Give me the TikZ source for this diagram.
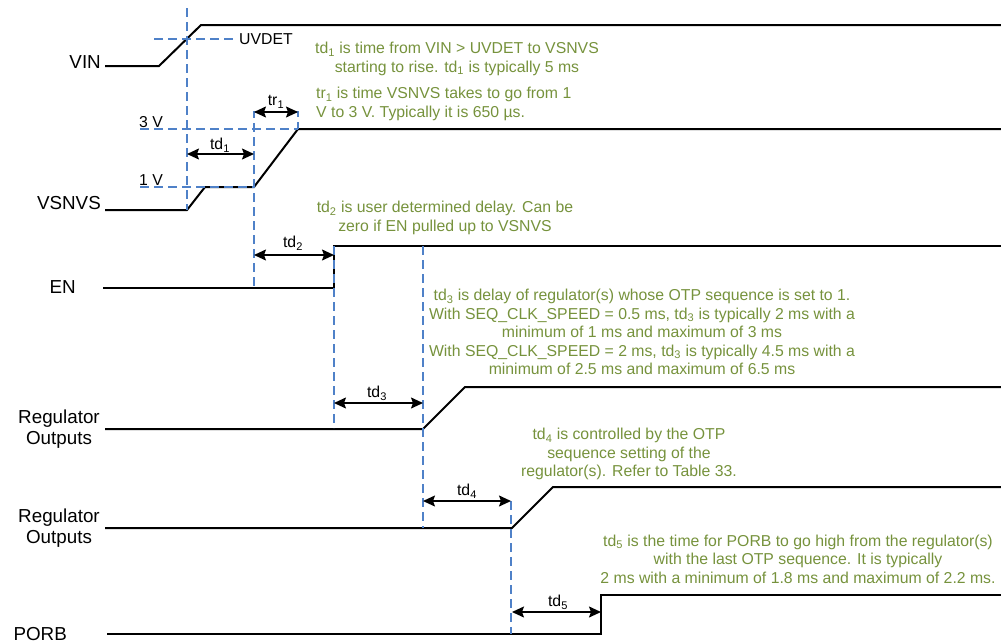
\documentclass[tikz,border=0pt]{standalone}
\usepackage{fontspec}
\setmainfont{Liberation Sans}
\usetikzlibrary{arrows.meta}
\definecolor{dblue}{RGB}{79,129,200}
\definecolor{ogreen}{RGB}{118,146,60}
\newcommand{\sbs}[1]{\textsubscript{#1}}
\begin{document}
\begin{tikzpicture}[x=1pt,y=-1pt,
  wave/.style={line width=2pt, line join=miter},
  guide/.style={dblue, line width=2pt, dash pattern=on 9pt off 5pt},
  dim/.style={line width=1.5pt, {Stealth[length=12pt,width=11pt,inset=2pt]}-{Stealth[length=12pt,width=11pt,inset=2pt]}},
  sig/.style={font=\fontsize{18.8}{21}\selectfont, inner sep=0pt, align=center},
  lbl/.style={font=\fontsize{15.8}{18}\selectfont, inner sep=0pt},
  note/.style={font=\fontsize{15.8}{18.5}\selectfont, text=ogreen, inner sep=0pt, align=center}]
\useasboundingbox (0,0) rectangle (1001,643);

% signal labels
\node[sig, anchor=east] (lvin) at (101,62) {VIN};
\node[sig, anchor=east] (lvsnvs) at (101,203) {VSNVS};
\node[sig, anchor=east] (len) at (76,287) {EN};
\node[sig] (lreg1) at (59,429) {Regulator\\Outputs};
\node[sig] (lreg2) at (59,528) {Regulator\\Outputs};
\node[sig, anchor=east] (lporb) at (67,634) {PORB};

% waveforms
\draw[wave] (105,66) -- (159,66) -- (201,25) -- (1001,25);
\draw[wave] (105,210) -- (187,210) -- (205,187) -- (254,187) -- (298,129) -- (1001,129);
\draw[wave] (103,288) -- (334,288) -- (334,246) -- (1001,246);
\draw[wave] (105,429) -- (423,429) -- (465,387) -- (1001,387);
\draw[wave] (105,528) -- (512,528) -- (553,487) -- (1001,487);
\draw[wave] (107,634) -- (601,634) -- (601,595) -- (1001,595);

% guides
\draw[guide] (187,8) -- (187,210);
\draw[guide] (154,39) -- (233,39);
\draw[guide] (140,129) -- (298,129);
\draw[guide] (140,187) -- (254,187);
\draw[guide] (257,112) -- (254,112) -- (254,288);
\draw[guide] (294,112) -- (298,112) -- (298,129);
\draw[guide] (334,246) -- (334,428);
\draw[guide] (423,246) -- (423,528);
\draw[guide] (511,501) -- (511,634);

% small labels
\node[lbl, anchor=west] (luv) at (239,39) {UVDET};
\node[lbl] (l3v) at (151,122) {3 V};
\node[lbl] (l1v) at (151,180) {1 V};

% dimension arrows
\coordinate (a1l) at (187,154); \coordinate (a1r) at (254,154);
\coordinate (r1l) at (254,112); \coordinate (r1r) at (298,112);
\coordinate (a2l) at (254,255); \coordinate (a2r) at (334,255);
\coordinate (a3l) at (334,403); \coordinate (a3r) at (423,403);
\coordinate (a4l) at (423,501); \coordinate (a4r) at (511,501);
\coordinate (a5l) at (512,612); \coordinate (a5r) at (601,612);
\draw[dim] (a1l) -- (a1r);
\draw[dim] (r1l) -- (r1r);
\draw[dim] (a2l) -- (a2r);
\draw[dim] (a3l) -- (a3r);
\draw[dim] (a4l) -- (a4r);
\draw[dim] (a5l) -- (a5r);
\node[lbl] (ltd1) at (220,145) {td\sbs{1}};
\node[lbl] (ltr1) at (276,102) {tr\sbs{1}};
\node[lbl] (ltd2) at (293,243) {td\sbs{2}};
\node[lbl] (ltd3) at (377,393) {td\sbs{3}};
\node[lbl] (ltd4) at (467,491) {td\sbs{4}};
\node[lbl] (ltd5) at (558,602) {td\sbs{5}};

% notes
\node[note] (n1) at (457,59) {td\sbs{1} is time from VIN > UVDET to VSNVS\\starting to rise. td\sbs{1} is typically 5 ms};
\node[note, anchor=west, align=left] (n2) at (316,104) {tr\sbs{1} is time VSNVS takes to go from 1\\V to 3 V. Typically it is 650 µs.};
\node[note] (n3) at (445,218) {td\sbs{2} is user determined delay. Can be\\zero if EN pulled up to VSNVS};
\node[note] (n4) at (642,332) {td\sbs{3} is delay of regulator(s) whose OTP sequence is set to 1.\\With SEQ\_CLK\_SPEED = 0.5 ms, td\sbs{3} is typically 2 ms with a\\minimum of 1 ms and maximum of 3 ms\\With SEQ\_CLK\_SPEED = 2 ms, td\sbs{3} is typically 4.5 ms with a\\minimum of 2.5 ms and maximum of 6.5 ms};
\node[note] (n5) at (629,454) {td\sbs{4} is controlled by the OTP\\sequence setting of the\\regulator(s). Refer to Table 33.};
\node[note] (n6) at (798,559) {td\sbs{5} is the time for PORB to go high from the regulator(s)\\with the last OTP sequence. It is typically\\2 ms with a minimum of 1.8 ms and maximum of 2.2 ms.};
\end{tikzpicture}
\end{document}
